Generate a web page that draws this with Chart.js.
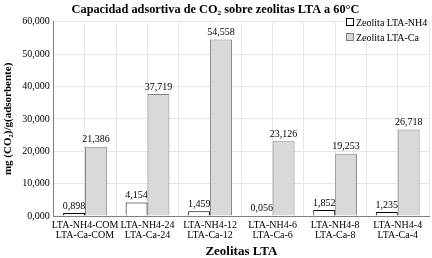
<!DOCTYPE html>
<html>
<head>
<meta charset="utf-8">
<script src="https://cdn.jsdelivr.net/npm/chart.js@4"></script>
<style>
  html, body { margin: 0; padding: 0; background: #fff; }
  #wrap { position: relative; width: 432px; height: 258px; }
  #legend { position: absolute; left: 346px; top: 15px; font: 10px 'Liberation Serif', serif; color: #000; }
  #legend div { height: 15px; line-height: 15px; white-space: nowrap; }
  #legend span { display: inline-block; width: 6px; height: 6px; margin-right: 2px; vertical-align: 0px; }
</style>
</head>
<body>
<div id="wrap">
  <canvas id="chart" width="432" height="258"></canvas>
  <div id="legend">
    <div><span style="background:#fff;border:1px solid #000"></span>Zeolita LTA-NH4</div>
    <div><span style="background:#d9d9d9;border:1px solid #808080"></span>Zeolita LTA-Ca</div>
  </div>
</div>
<script>
// data
const categories = [
    ['LTA-NH4-COM', 'LTA-Ca-COM'],
    ['LTA-NH4-24', 'LTA-Ca-24'],
    ['LTA-NH4-12', 'LTA-Ca-12'],
    ['LTA-NH4-6', 'LTA-Ca-6'],
    ['LTA-NH4-8', 'LTA-Ca-8'],
    ['LTA-NH4-4', 'LTA-Ca-4']
];
const nh4Values = [0.898, 4.154, 1.459, 0.056, 1.852, 1.235];
const caValues = [21.386, 37.719, 54.558, 23.126, 19.253, 26.718];
const seriesNames = ['Zeolita LTA-NH4', 'Zeolita LTA-Ca'];
const yMax = 60;
const yStep = 10;

const SERIF = "'Liberation Serif', 'Times New Roman', serif";

// comma as decimal separator, 3 decimals
const fmt = v => v.toFixed(3).replace('.', ',');

// value labels above each bar
const barLabels = {
    id: 'barLabels',
    afterDatasetsDraw(chart) {
        const ctx = chart.ctx;
        ctx.save();
        ctx.font = '10px ' + SERIF;
        ctx.fillStyle = '#000';
        ctx.textAlign = 'center';
        ctx.textBaseline = 'bottom';
        chart.data.datasets.forEach((ds, i) => {
            chart.getDatasetMeta(i).data.forEach((bar, j) => {
                ctx.fillText(fmt(ds.data[j]), bar.x, bar.y - 2);
            });
        });
        ctx.restore();
    }
};

new Chart(document.getElementById('chart'), {
    type: 'bar',
    data: {
        labels: categories,
        datasets: [
            {
                label: seriesNames[0],
                data: nh4Values,
                backgroundColor: '#ffffff',
                borderColor: '#000000',
                borderWidth: 1,
                categoryPercentage: 0.7,
                barPercentage: 1.0
            },
            {
                label: seriesNames[1],
                data: caValues,
                backgroundColor: '#d9d9d9',
                borderColor: '#808080',
                borderWidth: 1,
                categoryPercentage: 0.7,
                barPercentage: 1.0
            }
        ]
    },
    options: {
        responsive: false,
        animation: false,
        layout: { padding: { left: 2, right: 3, top: 0, bottom: 0 } },
        plugins: {
            legend: { display: false },
            tooltip: { enabled: false },
            title: {
                display: true,
                text: 'Capacidad adsortiva de CO\u2082 sobre zeolitas LTA a 60°C',
                color: '#000',
                font: { family: SERIF, size: 12.3, weight: 'bold' },
                padding: { top: 2, bottom: 5 }
            }
        },
        scales: {
            x: {
                offset: true,
                grid: { display: false, drawTicks: false },
                border: { color: '#808080' },
                ticks: {
                    color: '#000',
                    font: { family: SERIF, size: 10, lineHeight: 0.95 },
                    maxRotation: 0,
                    autoSkip: false,
                    padding: 5
                },
                title: {
                    display: true,
                    text: 'Zeolitas LTA',
                    color: '#000',
                    font: { family: SERIF, size: 13, weight: 'bold', lineHeight: 1.0 },
                    padding: { top: 0, bottom: 0 }
                }
            },
            // half-category vertical grid
            xGrid: {
                type: 'category',
                labels: new Array(categories.length * 2).fill(''),
                offset: true,
                position: 'bottom',
                display: true,
                grid: { offset: true, color: '#e6e6e6', drawTicks: false },
                border: { display: false },
                ticks: { display: false }
            },
            y: {
                min: 0,
                max: yMax,
                ticks: {
                    stepSize: yStep,
                    color: '#000',
                    font: { family: SERIF, size: 10 },
                    callback: v => fmt(v),
                    padding: 4
                },
                grid: { color: '#e6e6e6', drawTicks: false },
                border: { color: '#808080' },
                title: {
                    display: true,
                    text: 'mg (CO\u2082)/g(adsorbente)',
                    color: '#000',
                    font: { family: SERIF, size: 11, weight: 'bold' },
                    padding: { top: 0, bottom: 3 }
                }
            }
        }
    },
    plugins: [barLabels]
});
</script>
</body>
</html>
